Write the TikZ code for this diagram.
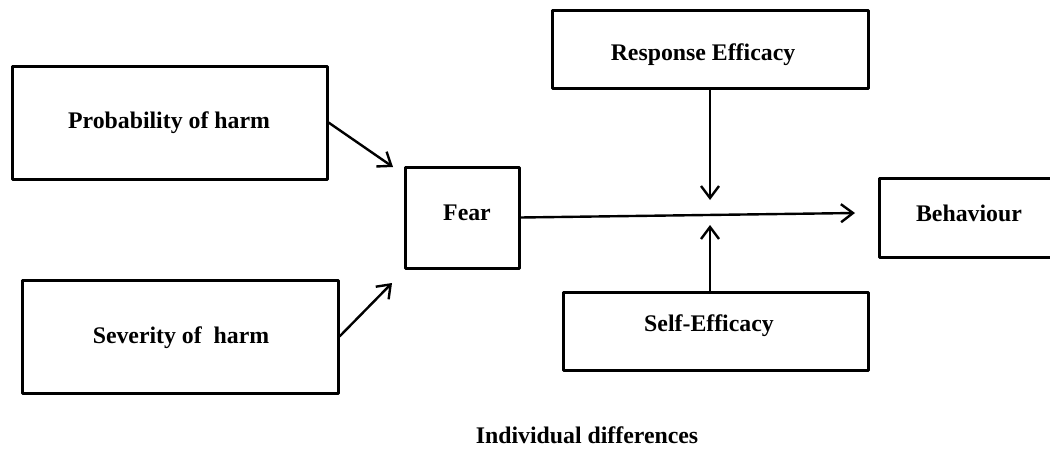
\documentclass[tikz,border=0pt]{standalone}
\usepackage{fontspec}
\setmainfont{Liberation Serif}
\usetikzlibrary{arrows.meta}
\tikzset{
  box/.style={draw=black, line width=3pt, line join=round, rectangle, inner sep=0pt},
  txt/.style={font=\fontsize{23.8}{28}\selectfont\bfseries, inner sep=0pt, anchor=center},
  conn/.style={draw=black, line width=2.4pt, -{Straight Barb[length=12pt,width=18pt,line width=2.4pt]}},
}
\begin{document}
\begin{tikzpicture}[x=1pt,y=-1pt]
\clip (0,0) rectangle (1050,450);
\fill[white] (0,0) rectangle (1050,450);
% boxes
\node[box, minimum width=315pt, minimum height=113pt] (prob) at (169.5,122.5) {};
\node[box, minimum width=316pt, minimum height=113pt] (sev) at (180,336.5) {};
\node[box, minimum width=114pt, minimum height=101pt] (fear) at (462,217.5) {};
\node[box, minimum width=316pt, minimum height=78pt] (resp) at (710,49) {};
\node[box, minimum width=305pt, minimum height=78pt] (self) at (715.5,331) {};
\node[box, minimum width=200pt, minimum height=79pt, anchor=west] (beh) at (878,217.5) {};
% texts
\node[txt] (probt) at (169,123) {Probability of harm};
\node[txt] (sevt) at (181,338) {Severity of \ harm};
\node[txt] (feart) at (467,213) {Fear};
\node[txt] (respt) at (703,55) {Response Efficacy};
\node[txt] (selft) at (709,326) {Self-Efficacy};
\node[txt] (beht) at (969,213) {Behaviour};
\node[txt] (indiv) at (587,435) {Individual differences};
% free ends
\coordinate (pf) at (393,167);
\coordinate (sf) at (392,283);
\coordinate (fb) at (855,213);
\coordinate (rd) at (710,200);
\coordinate (su) at (710,225);
\coordinate (sstart) at (710,292);
% connectors
\draw[conn] (prob.east) -- (pf);
\draw[conn] (sev.east) -- (sf);
\draw[conn] (fear.east) -- (fb);
\draw[conn] (resp.south) -- (rd);
\draw[conn] (sstart) -- (su);
\end{tikzpicture}
\end{document}
